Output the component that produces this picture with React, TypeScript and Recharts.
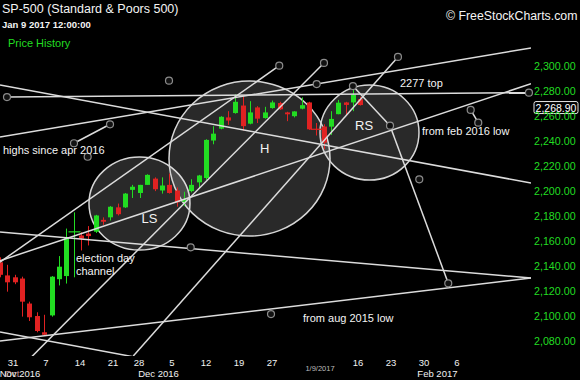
import { Bar, ComposedChart, ReferenceArea, ReferenceDot, ReferenceLine, XAxis, YAxis } from 'recharts'

// daily candles, Oct 27 2016 .. Jan 9 2017 (index = trading day)
const dates = [
  'Oct 27', 'Oct 28', 'Oct 31', 'Nov 1', 'Nov 2', 'Nov 3', 'Nov 4', 'Nov 7', 'Nov 8', 'Nov 9',
  'Nov 10', 'Nov 11', 'Nov 14', 'Nov 15', 'Nov 16', 'Nov 17', 'Nov 18', 'Nov 21', 'Nov 22', 'Nov 23',
  'Nov 25', 'Nov 28', 'Nov 29', 'Nov 30', 'Dec 1', 'Dec 2', 'Dec 5', 'Dec 6', 'Dec 7', 'Dec 8',
  'Dec 9', 'Dec 12', 'Dec 13', 'Dec 14', 'Dec 15', 'Dec 16', 'Dec 19', 'Dec 20', 'Dec 21', 'Dec 22',
  'Dec 23', 'Dec 27', 'Dec 28', 'Dec 29', 'Dec 30', 'Jan 3', 'Jan 4', 'Jan 5', 'Jan 6', 'Jan 9',
]
const opens = [
  2143, 2132.5, 2131, 2130, 2110, 2100, 2087, 2100.5, 2129.5, 2132,
  2167, 2164.5, 2166, 2167.5, 2177, 2179, 2187, 2187, 2201, 2198.5,
  2205, 2210, 2200.5, 2205, 2200.5, 2191.5, 2200, 2207, 2210.5, 2240.5,
  2250, 2259, 2262.5, 2268.5, 2254, 2267, 2258.5, 2266.5, 2270.5, 2263,
  2260, 2266, 2271, 2249.5, 2251.7, 2251.6, 2261.6, 2271, 2271, 2273.6,
]
const highs = [
  2147, 2141, 2133, 2131.5, 2111.5, 2103, 2101, 2132, 2148, 2170,
  2183, 2167, 2172, 2181, 2179, 2188, 2190, 2198.5, 2205, 2205,
  2213.5, 2211, 2211, 2214, 2203, 2199.5, 2209.5, 2213, 2241.5, 2252,
  2260, 2264, 2277.5, 2276, 2272, 2268, 2267.5, 2272.5, 2271.5, 2263.5,
  2264, 2275, 2271.5, 2254.5, 2253.5, 2264, 2273, 2271.5, 2282, 2275.5,
]
const lows = [
  2131, 2119.5, 2125.5, 2099.5, 2096, 2087, 2084, 2099.5, 2124.5, 2126,
  2131, 2152.5, 2156.5, 2166.5, 2173, 2176.5, 2180.5, 2186.5, 2194.5, 2194.5,
  2205, 2200, 2198, 2198, 2187.5, 2188, 2199, 2202.5, 2209, 2237.5,
  2249.5, 2253, 2262, 2248.5, 2253.5, 2254.5, 2258, 2266, 2265, 2256,
  2259, 2265.5, 2249, 2244.5, 2233.5, 2245, 2261.5, 2260.5, 2264, 2268.5,
]
const closes = [
  2133, 2127, 2127, 2111.5, 2099, 2088, 2085, 2131.5, 2139.5, 2163,
  2167.4, 2162, 2164, 2180.5, 2175.5, 2187.5, 2181.5, 2198, 2203.5, 2205,
  2213, 2201.5, 2204.5, 2198.5, 2191, 2193, 2205, 2212.5, 2241, 2246,
  2259.5, 2256.5, 2271.5, 2252, 2263, 2258, 2263, 2271, 2265.5, 2261.5,
  2263.8, 2268.8, 2249.5, 2249.3, 2238.8, 2257.8, 2270.8, 2269, 2277, 2268.9,
]
const lastClose = 2268.9

const yTicks = [2080, 2100, 2120, 2140, 2160, 2180, 2200, 2220, 2240, 2260, 2280, 2300]

const dayTicks = [1.67, 6.15, 10.78, 15.26, 18.8, 23.29, 27.91, 32.39, 36.88, 48.57, 53.06, 57.55, 62.03]
const dayLabels = ['31', '7', '14', '21', '28', '5', '12', '19', '27', '16', '23', '30', '6']
const monthTicks = [2.62, 21.45, 59.38]
const monthLabels = ['Nov 2016', 'Dec 2016', 'Feb 2017']
const cursorTick = 43.41
const cursorLabel = '1/9/2017'

// drawn trend lines: [day1, price1, day2, price2]
const trendLines = [
  [0.85, 2275.3, 71.82, 2278.8],
  [-0.1, 2284.9, 72.1, 2206.5],
  [-0.1, 2243.3, 72.1, 2314.6],
  [-0.1, 2167.3, 72.1, 2130.4],
  [-0.1, 2080, 72.1, 2130.4],
  [-0.1, 2087.2, 18.93, 2066.4],
  [4.21, 2067.4, 43.95, 2302.6],
  [-0.1, 2143.2, 37.87, 2300.4],
  [18.02, 2068, 54.01, 2307.4],
  [-0.1, 2144.3, 72.1, 2286],
  [9.96, 2238.3, 14.86, 2253.5],
  [63.9, 2265, 64.93, 2254.8],
  [47.89, 2284.1, 52.93, 2252.4],
  [52.93, 2252.4, 60.85, 2126.2],
]
const handles = [
  [0.85, 2275.3], [71.82, 2278.8], [37.87, 2300.4], [43.95, 2302.6], [54.01, 2307.4],
  [42.96, 2285.7], [22.88, 2288.4], [9.96, 2238.3], [14.86, 2253.5], [11.82, 2227.5],
  [25.83, 2155], [47.89, 2284.1], [52.93, 2252.4], [60.85, 2126.2], [63.9, 2265],
  [64.93, 2254.8], [56.91, 2209.4], [36.75, 2101.6],
]
// head & shoulders circles: [dayLeft, dayRight, priceTop, priceBottom]
const circles = [
  [12.0, 25.73, 2227.3, 2152.8],
  [22.88, 44.77, 2288.1, 2164],
  [43.41, 56.87, 2284.9, 2208.9],
]

const data = dates.map((d, i) => ({
  k: i,
  date: d,
  o: opens[i],
  h: highs[i],
  l: lows[i],
  c: closes[i],
  range: [lows[i], highs[i]],
}))

const GREEN = '#22dd22'
const RED = '#e02222'
const FONT = "'Liberation Sans', Arial, sans-serif"

function Candle(props: any) {
  const { x, y, width, height, payload } = props
  const top0 = Math.min(y, y + height)
  const hgt = Math.abs(height)
  const { o, h, l, c } = payload
  const unit = hgt / (h - l)
  const toY = (v: number) => top0 + (h - v) * unit
  const color = c >= o ? GREEN : RED
  const cx = Math.floor(x + width / 2) + 0.5
  const bTop = toY(Math.max(o, c))
  const bBot = toY(Math.min(o, c))
  const doji = Math.abs(o - c) < 0.6
  return (
    <g>
      <line x1={cx} x2={cx} y1={top0} y2={top0 + hgt} stroke={color} strokeWidth={1} />
      {doji ? (
        <line x1={cx - 6} x2={cx + 6} y1={bTop} y2={bTop} stroke={color} strokeWidth={1.2} />
      ) : (
        <rect x={cx - 2.5} y={bTop} width={5} height={Math.max(bBot - bTop, 1)} fill={color} />
      )}
    </g>
  )
}

function DateTick(props: any) {
  const { x, y, payload } = props
  const v = payload.value
  const di = dayTicks.indexOf(v)
  if (di >= 0) {
    return (
      <text x={x} y={y + 8} textAnchor="middle" fill="#f2f2f2" fontSize={9.5} fontFamily={FONT}>
        {dayLabels[di]}
      </text>
    )
  }
  const mi = monthTicks.indexOf(v)
  if (mi >= 0) {
    return (
      <g>
        {mi === 0 && (
          <text x={x - 8} y={y + 19} textAnchor="middle" fill="#c89a9a" fontSize={9.5} fontFamily={FONT}>
            {'Oct'}
          </text>
        )}
        <text x={x} y={y + 19} textAnchor="middle" fill="#f2f2f2" fontSize={9.5} fontFamily={FONT}>
          {monthLabels[mi]}
        </text>
      </g>
    )
  }
  if (v === cursorTick) {
    return (
      <text x={x} y={y + 13} textAnchor="middle" fill="#bdbdbd" fontSize={7.5} fontFamily={FONT}>
        {cursorLabel}
      </text>
    )
  }
  return <g />
}

function PriceTag(props: any) {
  const { viewBox } = props
  const left = viewBox.x + viewBox.width + 3
  const top = viewBox.y - 3.5
  return (
    <g>
      <rect x={left} y={top} width={44} height={12} rx={2} fill="#000" stroke="#e8e8e8" strokeWidth={1} />
      <text x={left + 22} y={top + 10} textAnchor="middle" fill="#fff" fontSize={10.5} fontFamily={FONT}>
        {lastClose.toLocaleString('en-US', { minimumFractionDigits: 2 })}
      </text>
    </g>
  )
}

const note = (left: number, top: number, size = 11, color = '#f4f4f4'): React.CSSProperties => ({
  position: 'absolute',
  left,
  top,
  fontSize: size,
  lineHeight: '14px',
  color,
  fontFamily: FONT,
  whiteSpace: 'nowrap',
})

export default function App() {
  return (
    <div style={{ position: 'absolute', left: 0, top: 0, width: 580, height: 380, background: '#000', overflow: 'hidden' }}>
      <ComposedChart width={580} height={380} data={data} margin={{ top: 0, right: 0, bottom: 0, left: 0 }}>
        <XAxis
          dataKey="k"
          type="number"
          domain={[-0.1, 72.1]}
          allowDataOverflow
          ticks={[...dayTicks, ...monthTicks, cursorTick]}
          interval={0}
          tick={<DateTick />}
          tickLine={false}
          axisLine={false}
          tickSize={0}
          height={24}
        />
        <YAxis
          orientation="right"
          domain={[2068, 2353]}
          allowDataOverflow
          ticks={yTicks}
          width={49}
          tickLine={false}
          axisLine={false}
          tickSize={0}
          tickMargin={3}
          tick={{ fill: GREEN, fontSize: 10.7, fontFamily: FONT, textAnchor: 'start' }}
          tickFormatter={(v: number) => v.toLocaleString('en-US', { minimumFractionDigits: 2 })}
        />
        {circles.map(([k1, k2, p1, p2], i) => (
          <ReferenceArea
            key={'c' + i}
            x1={k1}
            x2={k2}
            y1={p2}
            y2={p1}
            shape={(s: any) => (
              <ellipse
                cx={s.x + s.width / 2}
                cy={s.y + s.height / 2}
                rx={s.width / 2}
                ry={s.height / 2}
                fill="#ffffff"
                fillOpacity={0.16}
                stroke="#d6d6d6"
                strokeWidth={1.5}
              />
            )}
          />
        ))}
        <Bar dataKey="range" barSize={5} shape={<Candle />} isAnimationActive={false} />
        {trendLines.map(([k1, p1, k2, p2], i) => (
          <ReferenceLine
            key={'l' + i}
            segment={[{ x: k1, y: p1 }, { x: k2, y: p2 }]}
            stroke="#dcdcdc"
            strokeWidth={1.5}
            ifOverflow="hidden"
          />
        ))}
        {handles.map(([k, p], i) => (
          <ReferenceDot key={'h' + i} x={k} y={p} r={3.5} fill="#111" stroke="#8c8c8c" strokeWidth={1.2} />
        ))}
        <ReferenceLine y={lastClose} stroke="none" label={<PriceTag />} />
      </ComposedChart>

      <div style={note(2, 2, 12.5, '#f4f4f4')}>SP-500 (Standard &amp; Poors 500)</div>
      <div style={{ ...note(2, 18, 9.5, '#f4f4f4'), fontWeight: 'bold' }}>Jan 9 2017 12:00:00</div>
      <div style={note(8, 36, 11, GREEN)}>Price History</div>
      <div style={note(446, 9, 12.3, '#f4f4f4')}>© FreeStockCharts.com</div>

      <div style={note(400, 76)}>2277 top</div>
      <div style={note(422, 124)}>from feb 2016 low</div>
      <div style={note(3, 143)}>highs since apr 2016</div>
      <div style={note(76, 251)}>election day</div>
      <div style={note(76, 264)}>channel</div>
      <div style={note(303, 311)}>from aug 2015 low</div>
      <div style={note(355, 119, 13)}>RS</div>
      <div style={note(260, 142, 13)}>H</div>
      <div style={note(141.5, 212, 13)}>LS</div>
    </div>
  )
}
